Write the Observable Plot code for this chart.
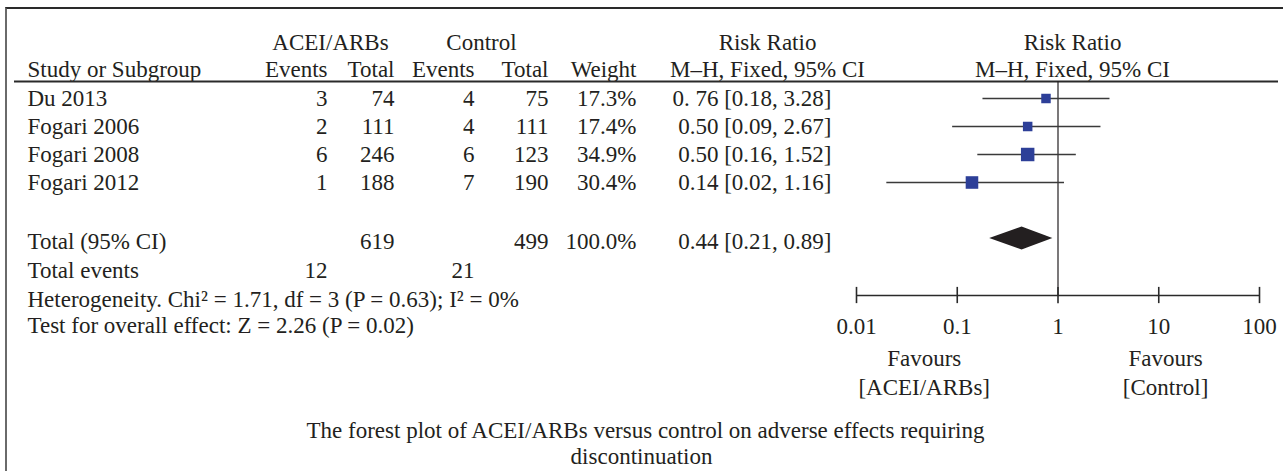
<!DOCTYPE html>
<html><head><meta charset="utf-8">
<script src="https://cdn.jsdelivr.net/npm/d3@7"></script>
<script src="https://cdn.jsdelivr.net/npm/@observablehq/plot@0.6"></script>
<style>
html,body{margin:0;padding:0;background:#fff;}
#wrap{position:relative;width:1283px;height:471px;overflow:hidden;}
#frame{position:absolute;left:5px;top:7px;right:-10px;bottom:-10px;border-top:2px solid #2a2a2a;border-left:2px solid #6a6a6a;pointer-events:none;}
</style></head><body><div id="wrap"><div id="frame"></div></div>
<script>
// ---- data ----
const studies = ["Du 2013", "Fogari 2006", "Fogari 2008", "Fogari 2012"];
const expEvents = [3, 2, 6, 1];
const expTotal = [74, 111, 246, 188];
const ctrlEvents = [4, 4, 6, 7];
const ctrlTotal = [75, 111, 123, 190];
const weights = [17.3, 17.4, 34.9, 30.4];
const riskRatio = [0.76, 0.50, 0.50, 0.14];
const ciLow = [0.18, 0.09, 0.16, 0.02];
const ciHigh = [3.28, 2.67, 1.52, 1.16];
const rrLabels = ["0. 76 [0.18, 3.28]", "0.50 [0.09, 2.67]", "0.50 [0.16, 1.52]", "0.14 [0.02, 1.16]"];
const totalExp = 619, totalCtrl = 499, totalWeight = "100.0%";
const totalRR = 0.44, totalLow = 0.21, totalHigh = 0.89, totalLabel = "0.44 [0.21, 0.89]";
const totalEventsExp = 12, totalEventsCtrl = 21;
const heterogeneity = "Heterogeneity. Chi² = 1.71, df = 3 (P = 0.63); I² = 0%";
const overallTest = "Test for overall effect: Z = 2.26 (P = 0.02)";
const tickValues = [0.01, 0.1, 1, 10, 100];
const tickLabels = ["0.01", "0.1", "1", "10", "100"];
const favours = ["Favours", "[ACEI/ARBs]", "Favours", "[Control]"];
const headerTop = ["ACEI/ARBs", "Control", "Risk Ratio", "Risk Ratio"];
const headerBottom = ["Study or Subgroup", "Events", "Total", "Events", "Total", "Weight", "M–H, Fixed, 95% CI", "M–H, Fixed, 95% CI"];
const caption = ["The forest plot of ACEI/ARBs versus control on adverse effects requiring", "discontinuation"];

// ---- layout (row units & column pixels) ----
const R = {head1: -2, head2: -1.036, headLine: -0.607, diamond: 5.0, total: 5.1, events: 6.14, het: 7.18, test: 8.1,
  axis: 7.036, tickHalf: 0.29, tickLab: 8.14, fav1: 9.29, fav2: 10.32, cap1: 11.86, cap2: 12.79, diamondHalf: 0.41};
const C = {name: 27, ee: 327, et: 394, ce: 474, ct: 548, w: 636, rr: 831, hAcei: 330, hCtrl: 481, hRR: 767, hForest: 1072};
const favX = [0.047, 0.047, 11.7, 11.7];
const ink = "#231f20";

const rows = studies.map((s, i) => ({study: s, ee: expEvents[i], et: expTotal[i], ce: ctrlEvents[i], ct: ctrlTotal[i],
  w: weights[i], wl: weights[i].toFixed(1) + "%", rr: riskRatio[i], lo: ciLow[i], hi: ciHigh[i], label: rrLabels[i], row: i}));

const T = (data, opts) => Plot.text(data, {frameAnchor: "left", fill: ink, ...opts});
const one = [0];
const marks = [];

// header
const topX = [C.hAcei, C.hCtrl, C.hRR, C.hForest];
headerTop.forEach((h, i) => marks.push(T(one, {y: () => R.head1, text: () => h, dx: topX[i], textAnchor: "middle"})));
const botX = [C.name, C.ee, C.et, C.ce, C.ct, C.w, C.hRR, C.hForest];
const botA = ["start", "end", "end", "end", "end", "end", "middle", "middle"];
headerBottom.forEach((h, i) => marks.push(T(one, {y: () => R.head2, text: () => h, dx: botX[i], textAnchor: botA[i]})));
marks.push(Plot.ruleY([R.headLine], {insetLeft: 14, insetRight: 5, stroke: "#2a2a2a", strokeWidth: 2}));

// study rows
marks.push(T(rows, {y: "row", text: "study", dx: C.name, textAnchor: "start"}));
marks.push(T(rows, {y: "row", text: "ee", dx: C.ee, textAnchor: "end"}));
marks.push(T(rows, {y: "row", text: "et", dx: C.et, textAnchor: "end"}));
marks.push(T(rows, {y: "row", text: "ce", dx: C.ce, textAnchor: "end"}));
marks.push(T(rows, {y: "row", text: "ct", dx: C.ct, textAnchor: "end"}));
marks.push(T(rows, {y: "row", text: "wl", dx: C.w, textAnchor: "end"}));
marks.push(T(rows, {y: "row", text: "label", dx: C.rr, textAnchor: "end"}));

// totals
const totRow = [{name: "Total (95% CI)", et: totalExp, ct: totalCtrl, w: totalWeight, label: totalLabel}];
marks.push(T(totRow, {y: () => R.total, text: "name", dx: C.name, textAnchor: "start"}));
marks.push(T(totRow, {y: () => R.total, text: "et", dx: C.et, textAnchor: "end"}));
marks.push(T(totRow, {y: () => R.total, text: "ct", dx: C.ct, textAnchor: "end"}));
marks.push(T(totRow, {y: () => R.total, text: "w", dx: C.w, textAnchor: "end"}));
marks.push(T(totRow, {y: () => R.total, text: "label", dx: C.rr, textAnchor: "end"}));
const evRow = [{name: "Total events", ee: totalEventsExp, ce: totalEventsCtrl}];
marks.push(T(evRow, {y: () => R.events, text: "name", dx: C.name, textAnchor: "start"}));
marks.push(T(evRow, {y: () => R.events, text: "ee", dx: C.ee, textAnchor: "end"}));
marks.push(T(evRow, {y: () => R.events, text: "ce", dx: C.ce, textAnchor: "end"}));
marks.push(T(one, {y: () => R.het, text: () => heterogeneity, dx: C.name, textAnchor: "start"}));
marks.push(T(one, {y: () => R.test, text: () => overallTest, dx: C.name, textAnchor: "start"}));

// forest
marks.push(Plot.ruleX([1], {x: d => d, y1: () => R.headLine, y2: () => R.axis, stroke: ink, strokeWidth: 1.2}));
marks.push(Plot.ruleY(rows, {y: "row", x1: "lo", x2: "hi", stroke: "#3a3a3a", strokeWidth: 1.6}));
marks.push(Plot.dot(rows, {x: "rr", y: "row", r: "w", symbol: "square", fill: "#2d3f98", stroke: null}));
const dia = [
  {x: totalLow, y1: R.diamond, y2: R.diamond},
  {x: totalRR, y1: R.diamond - R.diamondHalf, y2: R.diamond + R.diamondHalf},
  {x: totalHigh, y1: R.diamond, y2: R.diamond}];
marks.push(Plot.areaY(dia, {x: "x", y1: "y1", y2: "y2", fill: ink, curve: "linear"}));

// axis
marks.push(Plot.ruleY([{y: R.axis, x1: tickValues[0], x2: tickValues[tickValues.length - 1]}], {y: "y", x1: "x1", x2: "x2", stroke: "#2a2a2a", strokeWidth: 1.6}));
marks.push(Plot.ruleX(tickValues, {x: d => d, y1: () => R.axis - R.tickHalf, y2: () => R.axis + R.tickHalf, stroke: "#2a2a2a", strokeWidth: 1.6}));
marks.push(Plot.text(tickValues, {x: d => d, y: () => R.tickLab, text: (d, i) => tickLabels[i], fill: ink}));
const favRows = [R.fav1, R.fav2, R.fav1, R.fav2];
marks.push(Plot.text(favours, {x: (d, i) => favX[i], y: (d, i) => favRows[i], text: d => d, fill: ink}));

// caption
marks.push(T(one, {y: () => R.cap1, text: () => caption[0], dx: 645, textAnchor: "middle"}));
marks.push(T(one, {y: () => R.cap2, text: () => caption[1], dx: 641, textAnchor: "middle"}));

const chart = Plot.plot({
  width: 1283, height: 471, margin: 0,
  style: {fontFamily: "'Liberation Serif', 'Times New Roman', serif", fontSize: "23px", color: ink, background: "transparent", overflow: "visible"},
  x: {type: "log", domain: [0.01, 100], range: [856, 1259], axis: null},
  y: {type: "linear", domain: [-2, 8], range: [42, 322], axis: null},
  r: {type: "sqrt", domain: [0, 34.9], range: [0, 7.6]},
  marks
});
const wrap = document.getElementById("wrap");
wrap.insertBefore(chart, document.getElementById("frame"));
</script></body></html>
